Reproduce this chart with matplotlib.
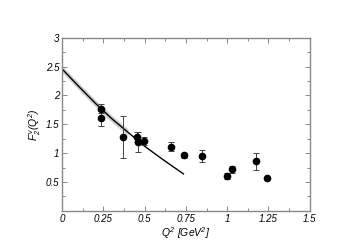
import numpy as np
import matplotlib
matplotlib.use('Agg')
import matplotlib.pyplot as plt
from matplotlib.ticker import MultipleLocator, FixedFormatter, FixedLocator

plt.rcParams['font.family'] = ['Liberation Sans', 'DejaVu Sans']
plt.rcParams['font.style'] = 'italic'
plt.rcParams['mathtext.fontset'] = 'custom'
plt.rcParams['mathtext.it'] = 'Liberation Sans:italic'
plt.rcParams['mathtext.rm'] = 'Liberation Sans:italic'

# data points
q2 = [0.238, 0.238, 0.371, 0.454, 0.46, 0.498, 0.657, 0.738, 0.849, 0.998, 1.028, 1.172, 1.238]
f2 = [1.77, 1.60, 1.28, 1.28, 1.19, 1.21, 1.11, 0.96, 0.95, 0.60, 0.72, 0.86, 0.56]
err = [0.08, 0.13, 0.36, 0.08, 0.17, 0.07, 0.08, 0.05, 0.10, 0.05, 0.06, 0.15, 0.03]

# model curve
cq2 = [0.0, 0.1, 0.2, 0.3, 0.4, 0.5, 0.6, 0.7, 0.735]
cf2 = [2.46, 2.16, 1.87, 1.60, 1.36, 1.12, 0.91, 0.71, 0.64]
band_q2 = [0.0, 0.1, 0.2, 0.3, 0.4]
band_hw = [0.06, 0.06, 0.06, 0.06, 0.06]

xticks = [0, 0.25, 0.5, 0.75, 1, 1.25, 1.5]
xlabels = ['0', '0.25', '0.5', '0.75', '1', '1.25', '1.5']
yticks = [0.5, 1, 1.5, 2, 2.5, 3]
ylabels = ['0.5', '1', '1.5', '2', '2.5', '3']

fig = plt.figure(figsize=(3.51, 2.48), dpi=100)
ax = fig.add_axes([0.1766, 0.150, 0.706, 0.698])

bf = np.interp(band_q2, cq2, cf2)
ax.fill_between(band_q2, bf - np.array(band_hw), bf + np.array(band_hw),
                color='#d0d0d0', lw=0, zorder=1)
ax.plot(cq2, cf2, color='black', lw=1.0, zorder=2)
ax.errorbar(q2, f2, yerr=err, fmt='o', color='black', ms=4.5,
            ecolor='#444444', elinewidth=0.7, capsize=2, capthick=0.7, zorder=3)

ax.set_xlim(0, 1.5)
ax.set_ylim(0, 3)
ax.xaxis.set_major_locator(FixedLocator(xticks))
ax.xaxis.set_major_formatter(FixedFormatter(xlabels))
ax.xaxis.set_minor_locator(MultipleLocator(0.125))
ax.yaxis.set_major_locator(FixedLocator(yticks))
ax.yaxis.set_major_formatter(FixedFormatter(ylabels))
ax.yaxis.set_minor_locator(MultipleLocator(0.25))

ax.tick_params(which='both', direction='in', top=True, right=True,
               color='#777777', labelsize=7, pad=2)
ax.tick_params(which='major', length=3.5, width=0.6)
ax.tick_params(which='minor', length=2, width=0.6)
for s in ax.spines.values():
    s.set_color('#888888')
    s.set_linewidth(1.0)

ax.set_xlabel(r'$Q^2$ [GeV$^2$]', fontsize=7.5, labelpad=1)
ax.set_ylabel(r'$F_2^{\nu}(Q^2)$', fontsize=7.5, labelpad=2)

fig.savefig('out.png', dpi=100)
